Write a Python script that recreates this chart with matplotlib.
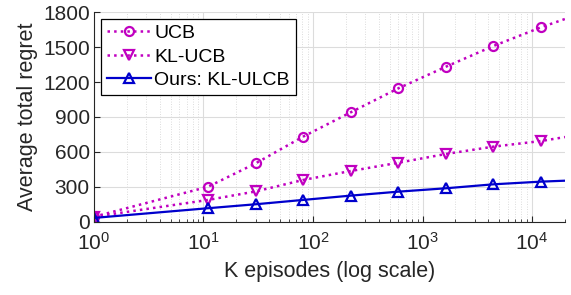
import matplotlib.pyplot as plt
from matplotlib.ticker import LogLocator, NullFormatter

# episode counts where markers sit, plus the final point at the right edge
episodes = [1, 11, 30, 81, 221, 602, 1636, 4447, 12088, 20000]
ucb = [45, 302, 503, 731, 940, 1146, 1331, 1509, 1669, 1740]
kl_ucb = [45, 189, 262, 360, 437, 508, 583, 646, 694, 728]
kl_ulcb = [35, 118, 152, 189, 226, 260, 289, 323, 346, 354]

magenta = "#c000c0"
blue = "#0000cc"
text_col = "#262626"

plt.rcParams["font.family"] = ["Liberation Sans", "DejaVu Sans"]

fig = plt.figure(figsize=(5.71, 2.95), dpi=100)
ax = fig.add_axes([0.1646, 0.2475, 0.8249, 0.7118])

marks = list(range(len(episodes) - 1))
ax.plot(episodes, ucb, ":", color=magenta, lw=1.8, marker="o", ms=6.5,
        mew=1.6, mfc="none", markevery=marks, label="UCB")
ax.plot(episodes, kl_ucb, ":", color=magenta, lw=1.8, marker="v", ms=7,
        mew=1.6, mfc="none", markevery=marks, label="KL-UCB")
ax.plot(episodes, kl_ulcb, "-", color=blue, lw=1.6, marker="^", ms=7,
        mew=1.6, mfc="none", markevery=marks, label="Ours: KL-ULCB")

ax.set_xscale("log")
ax.set_xlim(1, 20000)
ax.set_ylim(0, 1800)
ax.set_yticks(range(0, 1801, 300))
ax.xaxis.set_minor_locator(LogLocator(base=10, subs=range(2, 10), numticks=20))
ax.xaxis.set_minor_formatter(NullFormatter())

ax.grid(which="major", color="#dcdcdc", lw=0.8)
ax.grid(which="minor", axis="x", color="#d0d0d0", lw=0.6, ls=(0, (1, 2)))
ax.set_axisbelow(True)

for s in ["top", "right"]:
    ax.spines[s].set_visible(False)
for s in ["left", "bottom"]:
    ax.spines[s].set_color(text_col)
    ax.spines[s].set_linewidth(0.8)

ax.tick_params(which="both", direction="in", colors=text_col, labelsize=15)
ax.tick_params(which="major", length=4)
ax.tick_params(which="minor", length=2.5)
ax.tick_params(axis="x", pad=7)
ax.tick_params(axis="y", pad=3)

ax.set_xlabel("K episodes (log scale)", fontsize=15.5, color=text_col, labelpad=5)
ax.set_ylabel("Average total regret", fontsize=15.5, color=text_col, labelpad=4)

leg = ax.legend(loc="upper left", fontsize=14, handlelength=2.3,
                fancybox=False, framealpha=1, edgecolor="black",
                borderaxespad=0.35, labelspacing=0.3, handletextpad=0.15,
                borderpad=0.3)
leg.get_frame().set_linewidth(0.9)

fig.savefig("out.png", dpi=100)
